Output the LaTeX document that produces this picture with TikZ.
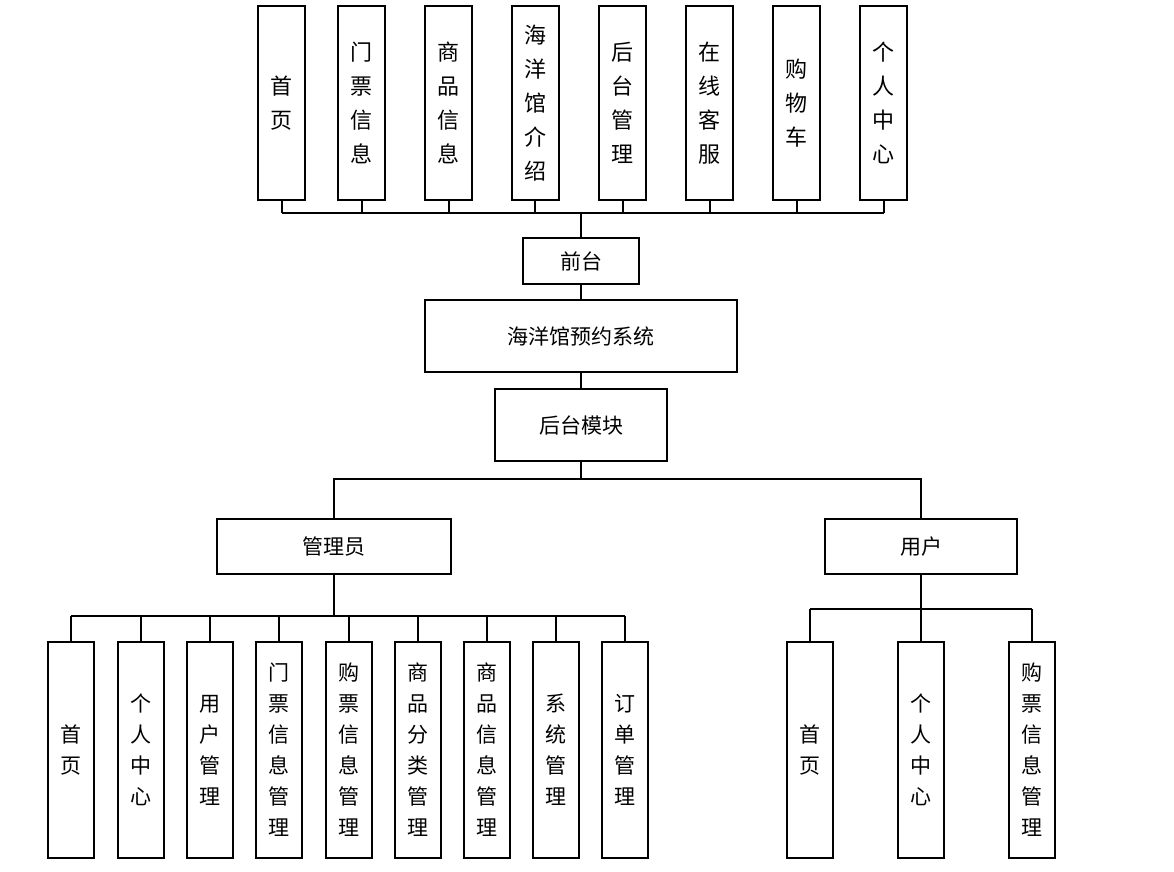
\documentclass[tikz,border=0pt]{standalone}
\usepackage{fontspec}
\newfontfamily\cjk{Noto Sans CJK SC}
\begin{document}
\begin{tikzpicture}[x=1pt,y=-1pt,
  line/.style={line width=2pt},
  topbox/.style={draw,line width=2pt,inner sep=0pt,minimum width=47pt,minimum height=194pt,align=center,font=\cjk\fontsize{22}{34}\selectfont},
  botbox/.style={draw,line width=2pt,inner sep=0pt,minimum width=46pt,minimum height=216pt,align=center,font=\cjk\fontsize{21}{31}\selectfont},
  hbox/.style={draw,line width=2pt,inner sep=0pt,align=center,font=\cjk\fontsize{21}{24}\selectfont}]
\useasboundingbox (0,0) rectangle (1174,871);
% top row
\node[topbox] (t1) at (281.5,103) {首\\页};
\node[topbox] (t2) at (361.5,103) {门\\票\\信\\息};
\node[topbox] (t3) at (448.5,103) {商\\品\\信\\息};
\node[topbox] (t4) at (535,103) {海\\洋\\馆\\介\\绍};
\node[topbox] (t5) at (622.5,103) {后\\台\\管\\理};
\node[topbox] (t6) at (709.5,103) {在\\线\\客\\服};
\node[topbox] (t7) at (796.5,103) {购\\物\\车};
\node[topbox] (t8) at (883.5,103) {个\\人\\中\\心};
% middle
\node[hbox,minimum width=116pt,minimum height=46pt] (qt) at (581,261) {前台};
\node[hbox,minimum width=312pt,minimum height=72pt] (sys) at (581,336) {海洋馆预约系统};
\node[hbox,minimum width=172pt,minimum height=72pt] (ht) at (581,425) {后台模块};
\node[hbox,minimum width=234pt,minimum height=55pt] (adm) at (334,546.5) {管理员};
\node[hbox,minimum width=192pt,minimum height=55pt] (usr) at (921,546.5) {用户};
% admin children
\node[botbox] (a1) at (71,750) {首\\页};
\node[botbox] (a2) at (140.5,750) {个\\人\\中\\心};
\node[botbox] (a3) at (210,750) {用\\户\\管\\理};
\node[botbox] (a4) at (279,750) {门\\票\\信\\息\\管\\理};
\node[botbox] (a5) at (348.5,750) {购\\票\\信\\息\\管\\理};
\node[botbox] (a6) at (417.5,750) {商\\品\\分\\类\\管\\理};
\node[botbox] (a7) at (486.5,750) {商\\品\\信\\息\\管\\理};
\node[botbox] (a8) at (556,750) {系\\统\\管\\理};
\node[botbox] (a9) at (625,750) {订\\单\\管\\理};
% user children
\node[botbox] (u1) at (810,750) {首\\页};
\node[botbox] (u2) at (921,750) {个\\人\\中\\心};
\node[botbox] (u3) at (1031.5,750) {购\\票\\信\\息\\管\\理};
% bus coordinates
\coordinate (busT) at (581,213);
\coordinate (busM) at (581,479);
\coordinate (busA) at (334,616);
\coordinate (busU) at (921,609);
% top connectors
\foreach \i in {1,...,8} {\draw[line] (t\i.south) -- (t\i.south |- busT);}
\draw[line] (t1.south |- busT) -- (t8.south |- busT);
\draw[line] (busT) -- (qt.north);
\draw[line] (qt.south) -- (sys.north);
\draw[line] (sys.south) -- (ht.north);
\draw[line] (ht.south) -- (busM);
\draw[line] (adm.north) |- (busM) -| (usr.north);
% admin connectors
\draw[line] (adm.south) -- (busA);
\foreach \i in {1,...,9} {\draw[line] (a\i.north) -- (a\i.north |- busA);}
\draw[line] (a1.north |- busA) -- (a9.north |- busA);
% user connectors
\draw[line] (usr.south) -- (u2.north);
\foreach \i in {1,3} {\draw[line] (u\i.north) -- (u\i.north |- busU);}
\draw[line] (u1.north |- busU) -- (u3.north |- busU);
\end{tikzpicture}
\end{document}
